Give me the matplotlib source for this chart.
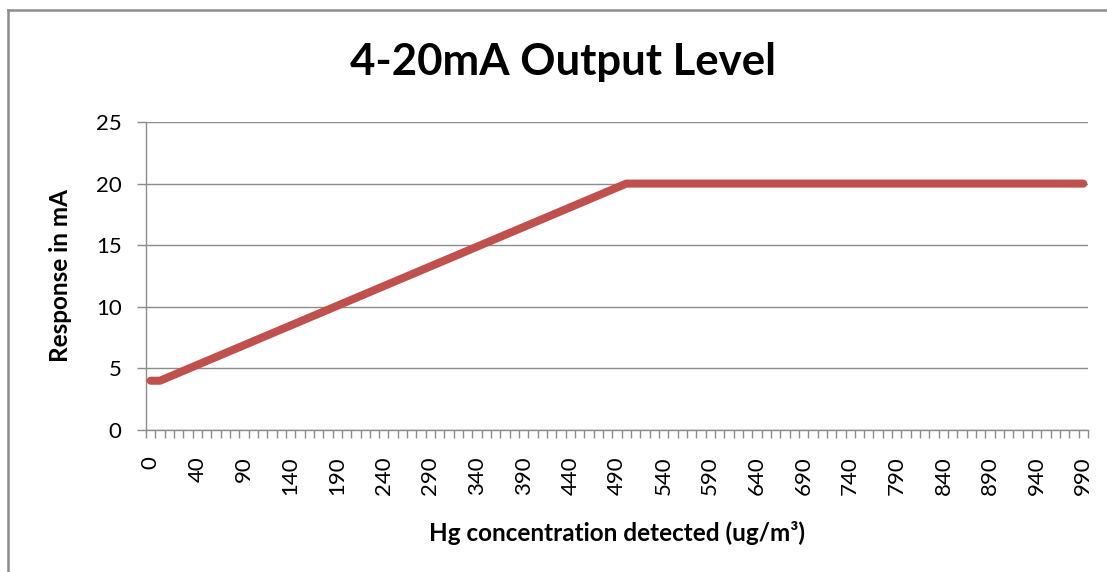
import matplotlib
matplotlib.use("Agg")
import matplotlib.pyplot as plt
from matplotlib.ticker import FixedLocator

# Data
categories = [0, 0, 10, 20, 30, 40, 50, 60, 70, 80, 90,
              100, 110, 120, 130, 140, 150, 160, 170, 180, 190,
              200, 210, 220, 230, 240, 250, 260, 270, 280, 290,
              300, 310, 320, 330, 340, 350, 360, 370, 380, 390,
              400, 410, 420, 430, 440, 450, 460, 470, 480, 490,
              500, 510, 520, 530, 540, 550, 560, 570, 580, 590,
              600, 610, 620, 630, 640, 650, 660, 670, 680, 690,
              700, 710, 720, 730, 740, 750, 760, 770, 780, 790,
              800, 810, 820, 830, 840, 850, 860, 870, 880, 890,
              900, 910, 920, 930, 940, 950, 960, 970, 980, 990]
response_ma = [4.0, 4.0, 4.32, 4.64, 4.96, 5.28, 5.6, 5.92, 6.24, 6.56, 6.88,
               7.2, 7.52, 7.84, 8.16, 8.48, 8.8, 9.12, 9.44, 9.76, 10.08,
               10.4, 10.72, 11.04, 11.36, 11.68, 12.0, 12.32, 12.64, 12.96, 13.28,
               13.6, 13.92, 14.24, 14.56, 14.88, 15.2, 15.52, 15.84, 16.16, 16.48,
               16.8, 17.12, 17.44, 17.76, 18.08, 18.4, 18.72, 19.04, 19.36, 19.68,
               20, 20, 20, 20, 20, 20, 20, 20, 20, 20,
               20, 20, 20, 20, 20, 20, 20, 20, 20, 20,
               20, 20, 20, 20, 20, 20, 20, 20, 20, 20,
               20, 20, 20, 20, 20, 20, 20, 20, 20, 20,
               20, 20, 20, 20, 20, 20, 20, 20, 20, 20]
y_ticks = [0, 5, 10, 15, 20, 25]

plt.rcParams['font.family'] = ['Lato', 'DejaVu Sans']

W, H = 1107, 572
fig = plt.figure(figsize=(W / 100, H / 100), dpi=100)
fig.patch.set_facecolor('white')

# outer chart border (left & top visible)
fig.add_artist(plt.Line2D([8 / W, 8 / W], [0, 1 - 10 / H], transform=fig.transFigure,
                          color='#8c8c8c', lw=1.8))
fig.add_artist(plt.Line2D([8 / W, 1], [1 - 10 / H, 1 - 10 / H], transform=fig.transFigure,
                          color='#8c8c8c', lw=1.8))

left, right, top, bottom = 146, 1088, 122, 430
ax = fig.add_axes([left / W, 1 - bottom / H, (right - left) / W, (bottom - top) / H])

x = list(range(len(categories)))
ax.plot(x, response_ma, color='#C0504D', lw=5.8, solid_capstyle='round',
        solid_joinstyle='round', zorder=3)

ax.set_xlim(-0.5, len(categories) - 0.5)
ax.set_ylim(0, 25)
ax.set_yticks(y_ticks)
ax.set_yticklabels([str(v) for v in y_ticks])
ax.yaxis.grid(True, color='#8c8c8c', lw=1.0)
ax.set_axisbelow(True)

major_pos = x[::5]
ax.xaxis.set_major_locator(FixedLocator(major_pos))
ax.set_xticklabels([str(categories[i]) for i in major_pos], rotation=90)
ax.xaxis.set_minor_locator(FixedLocator([i - 0.5 for i in range(len(categories) + 1)]))
ax.tick_params(axis='x', which='major', length=0, pad=19, labelsize=16, colors='black')
ax.tick_params(axis='x', which='minor', length=5.5, width=1, color='#8c8c8c', direction='out')
ax.tick_params(axis='y', which='major', length=6.5, width=1, color='#8c8c8c',
               direction='out', labelsize=16, pad=11)

for s in ['top', 'right']:
    ax.spines[s].set_visible(False)
for s in ['left', 'bottom']:
    ax.spines[s].set_color('#8c8c8c')
    ax.spines[s].set_linewidth(1.0)

fig.text(563 / W, 1 - 62 / H, '4-20mA Output Level', ha='center', va='center',
         fontsize=31.5, fontweight='bold')
fig.text(617 / W, 1 - 533 / H, 'Hg concentration detected (ug/m³)', ha='center',
         va='center', fontsize=17.5, fontweight='bold')
fig.text(60 / W, 1 - 275 / H, 'Response in mA', ha='center', va='center',
         rotation=90, fontsize=17.5, fontweight='bold')

fig.savefig('out.png', dpi=100)
